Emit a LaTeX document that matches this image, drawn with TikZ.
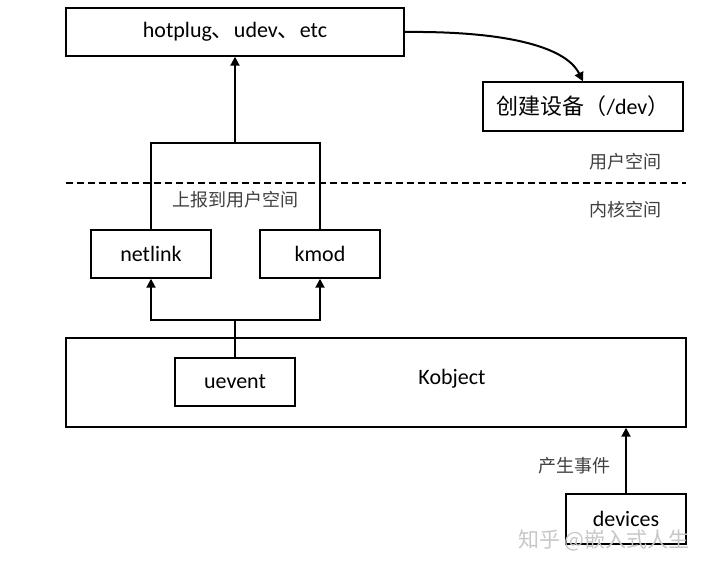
\documentclass[tikz,border=0pt]{standalone}
\usepackage{fontspec}
\setmainfont{Carlito}
\newfontfamily\cjk{Noto Sans CJK SC}
\usetikzlibrary{arrows.meta}
\begin{document}
\begin{tikzpicture}[x=1pt,y=-1pt,
  box/.style={draw=black,line width=1.4pt,minimum width=120pt,minimum height=48pt,inner sep=0pt,font=\fontsize{22}{24}\selectfont},
  conn/.style={draw=black,line width=2pt},
  arr/.style={conn,-{Triangle[length=9pt,width=9pt]}},
  lab/.style={font=\cjk\fontsize{18}{20}\selectfont,text=black!75,inner sep=0pt},
  wm/.style={font=\cjk\fontsize{21}{22}\selectfont,text=black!22,inner sep=0pt}]
\useasboundingbox (0,0) rectangle (707,568);
\fill[white] (0,0) rectangle (707,568);
% nodes
\node[box,minimum width=338pt] (top) at (235,32) {hotplug{\cjk 、}udev{\cjk 、}etc};
\node[box,minimum width=200pt,minimum height=49pt] (dev) at (583,106.5) {{\cjk 创建设备（}/dev{\cjk ）}};
\node[box] (netlink) at (151,254) {netlink};
\node[box] (kmod) at (320,254) {kmod};
\node[box,minimum width=620pt,minimum height=89pt] (kobj) at (376,382.5) {};
\node[inner sep=0pt,font=\fontsize{22}{24}\selectfont] (kobjtext) at (452,379) {Kobject};
\node[box] (uevent) at (235,382) {uevent};
\node[box,minimum height=50pt] (devices) at (626,519) {devices};
% labels
\node[lab] (us) at (625,162) {用户空间};
\node[lab] (ks) at (625,210) {内核空间};
\node[lab] (rep) at (235,200) {上报到用户空间};
\node[lab] (evt) at (574,466) {产生事件};
\node[wm] (mark) at (604,540) {知乎 @嵌入式人生};
% coordinates
\coordinate (up) at (235,143);
\coordinate (split) at (235,320);
\coordinate (dl) at (66,183);
\coordinate (dr) at (686,183);
% connectors
\draw[conn,dashed,dash pattern=on 7pt off 4pt] (dl) -- (dr);
\draw[arr] (up) -- (top.south);
\draw[conn] (netlink.north) |- (up) -| (kmod.north);
\draw[conn] (uevent.north) -- (split);
\draw[arr] (split) -| (netlink.south);
\draw[arr] (split) -| (kmod.south);
\draw[arr] (devices.north) -- (devices.north |- kobj.south);
\draw[arr] (top.east) .. controls (500,31) and (565,45) .. (dev.north);
\end{tikzpicture}
\end{document}
